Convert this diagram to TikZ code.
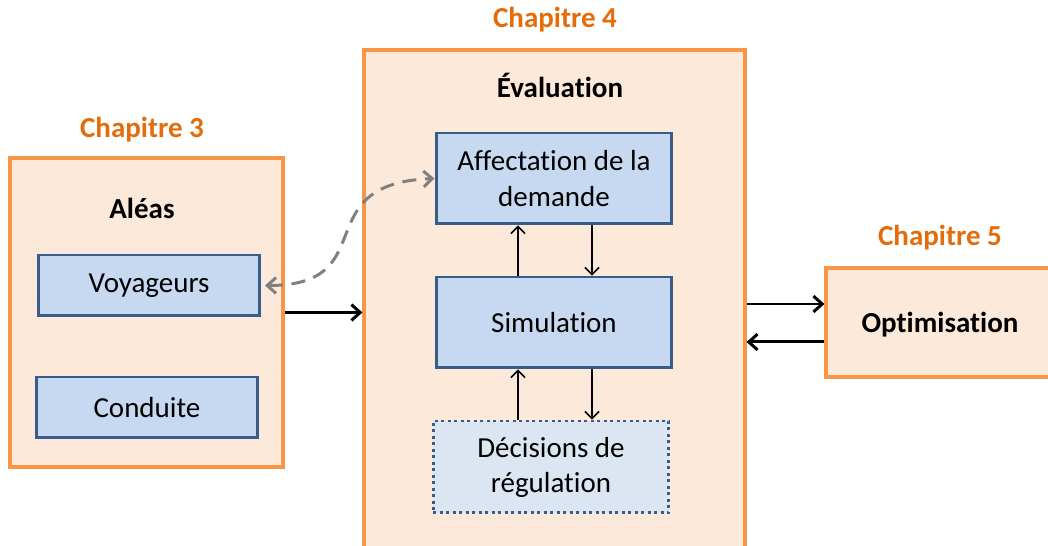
\documentclass[tikz,border=0pt]{standalone}
\usepackage{fontspec}
\setmainfont{Carlito}[Ligatures=NoCommon]
\usepackage{xcolor}
\usepackage{tikz}
\usetikzlibrary{positioning,arrows.meta}
\definecolor{peach}{HTML}{FDE9D9}
\definecolor{orangeb}{HTML}{F79646}
\definecolor{chap}{HTML}{E46C0A}
\definecolor{bluef}{HTML}{C6D9F1}
\definecolor{blueb}{HTML}{385D8A}
\definecolor{bluel}{HTML}{DCE6F2}
\begin{document}
\begin{tikzpicture}[x=0.02cm, y=-0.02cm,
      font=\fontsize{16.5}{20}\selectfont,
      chapbox/.style={draw=orangeb,fill=peach,line width=1.8pt,inner sep=0pt},
      procbox/.style={draw=blueb,fill=bluef,line width=1.7pt,align=center,
        minimum width=4.72cm,minimum height=1.82cm,inner sep=2pt},
      chaptitle/.style={text=chap,font=\fontsize{16.5}{20}\selectfont\bfseries},
      title/.style={font=\fontsize{16.5}{20}\selectfont\bfseries},
      trans/.style={-{Straight Barb[length=5pt,width=9pt]},line width=1.7pt},
      itrans/.style={-{Straight Barb[length=4pt,width=8pt]},line width=0.9pt},
      ]
      \useasboundingbox (0,0) rectangle (1048,546);
      % boites des chapitres
      \node (ch3) at (146.5,312.5) [chapbox,minimum width=5.46cm,minimum height=6.18cm] {};
      \node (ch4) at (554.5,305) [chapbox,minimum width=7.62cm,minimum height=10.2cm] {};
      \node (ch5) at (939,322.5) [chapbox,minimum width=4.52cm,minimum height=2.18cm] {};

      \node (t3) at (142,130) [chaptitle] {Chapitre 3};
      \node (t4) at (555,20) [chaptitle] {Chapitre 4};
      \node (t5) at (940,238) [chaptitle] {Chapitre 5};
      \node (aleas) at (142,208) [title] {Aléas};
      \node (eval) at (560,85) [title] {Évaluation};
      \node (optim) at (940,325) [title] {Optimisation};

      \node (voy) at (149,285.5) [procbox,minimum width=4.44cm,minimum height=1.22cm] {Voyageurs};
      \node (cond) at (147,407.5) [procbox,minimum width=4.44cm,minimum height=1.22cm] {Conduite};
      \node (affect) at (554,178.5) [procbox] {Affectation de la\\demande};
      \node (simu) at (554,322.5) [procbox] {Simulation};
      \node (decis) at (551,467) [procbox,fill=bluel,dotted,minimum height=1.84cm] {Décisions de\\régulation};

      \draw [itrans] (simu.north -| 518,0) to (affect.south -| 518,0);
      \draw [itrans] (affect.south -| 592,0) to (simu.north -| 592,0);
      \draw [itrans] (decis.north -| 518,0) to (simu.south -| 518,0);
      \draw [itrans] (simu.south -| 592,0) to (decis.north -| 592,0);

      \draw [trans] (ch3.east) to (ch3.east -| ch4.west);
      \draw [trans] ([yshift=0.37cm]ch5.west -| ch4.east) to ([yshift=0.37cm]ch5.west);
      \draw [trans] ([yshift=-0.39cm]ch5.west) to ([yshift=-0.39cm]ch5.west -| ch4.east);

      \draw [{Straight Barb[length=5pt,width=9pt]}-{Straight Barb[length=5pt,width=9pt]},
             gray,line width=1.7pt,dash pattern=on 8pt off 5pt]
            ([xshift=2pt]voy.east) .. controls +(120,0) and +(-130,5) .. (affect.west);
    \end{tikzpicture}
\end{document}
